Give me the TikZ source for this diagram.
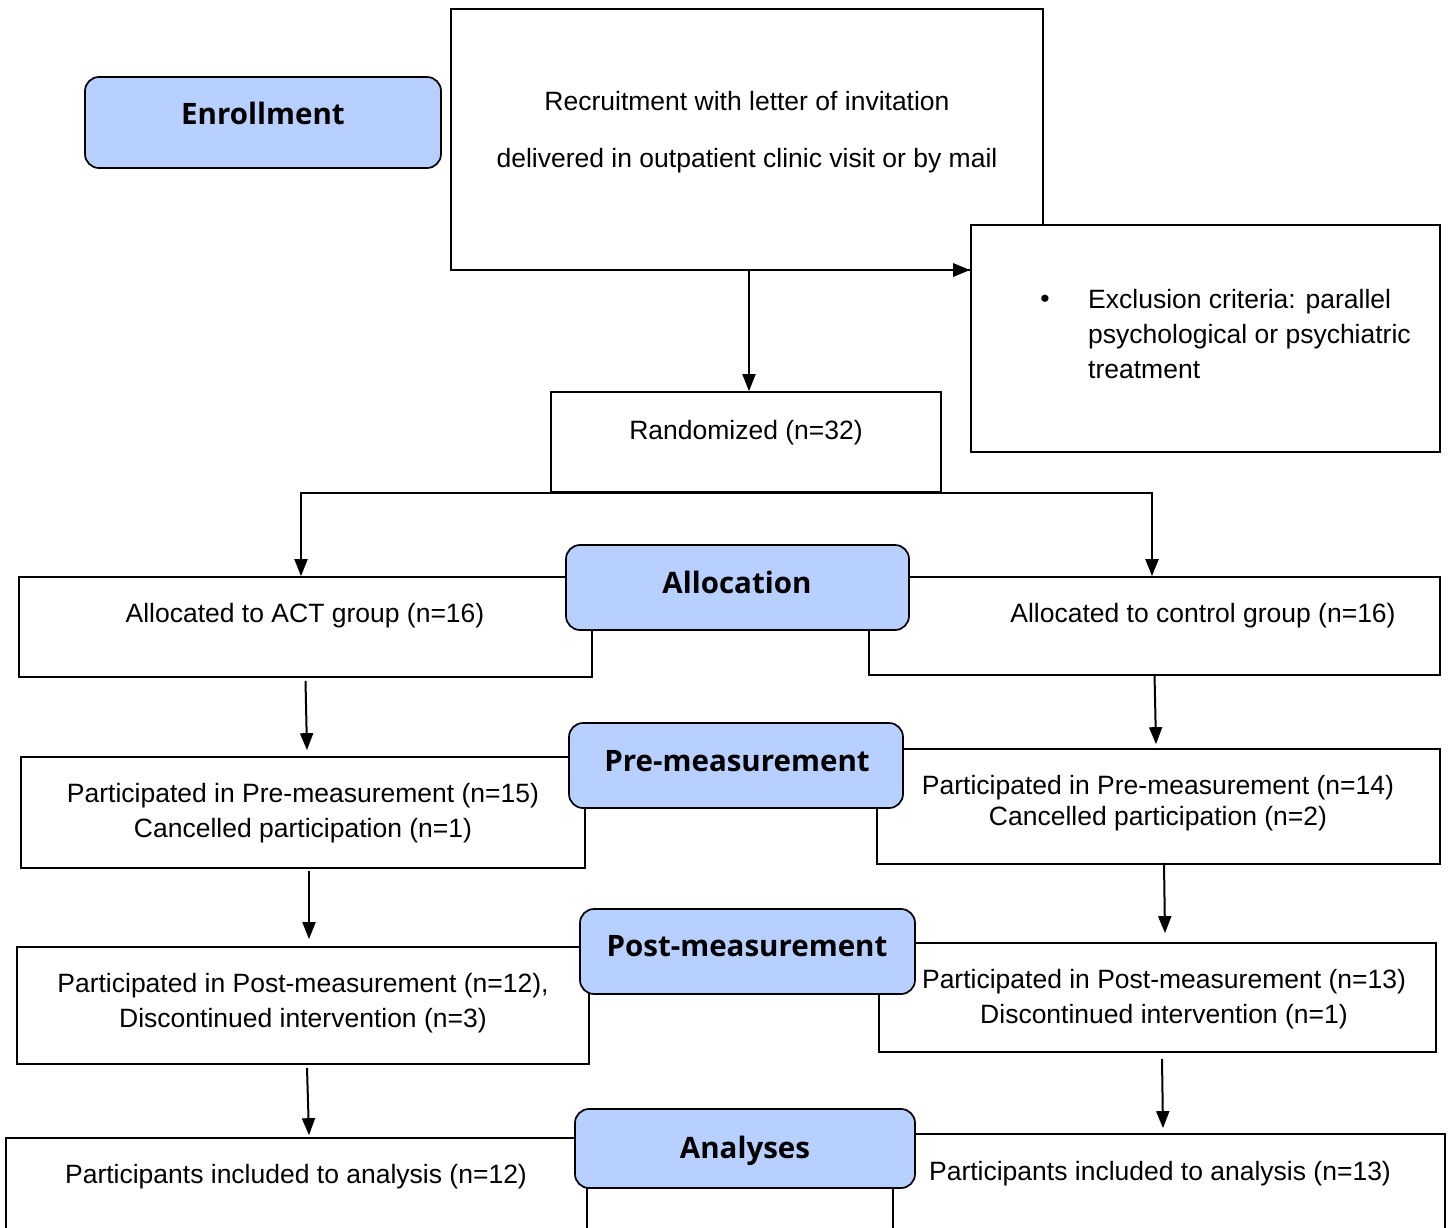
\documentclass[tikz,border=0pt]{standalone}
\usepackage{fontspec}
\setmainfont{Liberation Sans}
\newfontfamily\headfont{Open Sans}
\usetikzlibrary{arrows.meta}
\definecolor{headblue}{RGB}{183,208,255}
\tikzset{
  box/.style={draw=black, line width=1.7pt, fill=white, inner sep=0pt},
  headbox/.style={draw=black, line width=1.7pt, fill=headblue, rounded corners=14pt, inner sep=0pt},
  txt/.style={anchor=base, inner sep=0pt, font=\fontsize{26.5}{35}\selectfont, align=center},
  headtxt/.style={anchor=base, inner sep=0pt, font=\headfont\bfseries\fontsize{29.5}{34}\selectfont},
  arr/.style={line width=2pt, -{Triangle[length=17pt,width=13pt]}},
}
\begin{document}
\begin{tikzpicture}[x=1pt,y=-1pt]
\clip (0,0) rectangle (1452,1227);
\fill[white] (0,0) rectangle (1452,1227);

% boxes
\node[headbox, minimum width=356pt, minimum height=91pt] (enroll) at (263,122.5) {};
\node[box, minimum width=592pt, minimum height=261pt] (recruit) at (747,139.5) {};
\node[box, minimum width=469pt, minimum height=227pt] (excl) at (1205.5,338.5) {};
\node[box, minimum width=390pt, minimum height=100pt] (rand) at (746,442) {};

\node[box, minimum width=573pt, minimum height=100pt] (act) at (305.5,627) {};
\node[box, minimum width=571pt, minimum height=98pt] (ctrl) at (1154.5,626) {};
\node[headbox, minimum width=343pt, minimum height=85pt] (alloch) at (737.5,587.5) {};

\node[box, minimum width=564pt, minimum height=111pt] (pre1) at (303,812.5) {};
\node[box, minimum width=563pt, minimum height=115pt] (pre2) at (1158.5,806.5) {};
\node[headbox, minimum width=334pt, minimum height=85pt] (preh) at (736,765.5) {};

\node[box, minimum width=572pt, minimum height=117pt] (post1) at (303,1005.5) {};
\node[box, minimum width=557pt, minimum height=109pt] (post2) at (1157.5,997.5) {};
\node[headbox, minimum width=335pt, minimum height=85pt] (posth) at (747.5,951.5) {};

\node[box, minimum width=581pt, minimum height=122pt] (an1) at (296.5,1199) {};
\node[box, minimum width=552pt, minimum height=126pt] (an2) at (1169,1197) {};
\node[headbox, minimum width=340pt, minimum height=79pt] (anh) at (745,1148.5) {};

% texts
\node[headtxt] (t-enroll) at (263,124) {Enrollment};
\node[headtxt] (t-alloc) at (737,593) {Allocation};
\node[headtxt] (t-pre) at (737,771) {Pre-measurement};
\node[headtxt] (t-post) at (747,956) {Post-measurement};
\node[headtxt] (t-an) at (745,1158) {Analyses};

\node[txt] (t-recruit) at (747,167) {Recruitment with letter of invitation\\[22pt]delivered in outpatient clinic visit or by mail};
\node[txt] (t-bullet) at (1045,307) {•};
\node[txt, anchor=base west, align=left] (t-excl) at (1088,378) {Exclusion criteria: parallel\\psychological or psychiatric\\treatment};
\node[txt] (t-rand) at (746,439) {Randomized (n=32)};
\node[txt] (t-act) at (305,622) {Allocated to ACT group (n=16)};
\node[txt] (t-ctrl) at (1203,622) {Allocated to control group (n=16)};
\node[txt] (t-pre1) at (303,837) {Participated in Pre-measurement (n=15)\\Cancelled participation (n=1)};
\node[txt] (t-pre2) at (1158,825) {Participated in Pre-measurement (n=14)\\[-4pt]Cancelled participation (n=2)};
\node[txt] (t-post1) at (303,1027) {Participated in Post-measurement (n=12),\\Discontinued intervention (n=3)};
\node[txt] (t-post2) at (1164,1023) {Participated in Post-measurement (n=13)\\Discontinued intervention (n=1)};
\node[txt] (t-an1) at (296,1183) {Participants included to analysis (n=12)};
\node[txt] (t-an2) at (1160,1180) {Participants included to analysis (n=13)};

% connectors
\coordinate (exa) at (842,270);
\draw[arr, line width=2.8pt] (exa) -- (exa -| excl.west);
\draw[arr] ([xshift=2pt]recruit.south) -- ([xshift=3pt]rand.north);
\draw[arr] (rand.south) -| ([xshift=-4.5pt]act.north);
\draw[arr] (rand.south) -| ([xshift=-2.5pt]ctrl.north);
\draw[arr] ([yshift=-3pt]act.south) -- ([xshift=4pt,yshift=6pt]pre1.north);
\draw[arr] ([yshift=2pt]ctrl.south) -- ([xshift=-2.5pt,yshift=4pt]pre2.north);
\draw[arr] ([xshift=6pt,yshift=-2pt]pre1.south) -- ([xshift=6pt,yshift=7pt]post1.north);
\draw[arr] ([xshift=5.5pt,yshift=2pt]pre2.south) -- ([xshift=7.5pt,yshift=9pt]post2.north);
\draw[arr] ([xshift=4pt,yshift=-3pt]post1.south) -- ([xshift=12.5pt,yshift=2pt]an1.north);
\draw[arr] ([xshift=4.5pt,yshift=-6pt]post2.south) -- ([xshift=-6pt,yshift=5pt]an2.north);
\end{tikzpicture}
\end{document}
